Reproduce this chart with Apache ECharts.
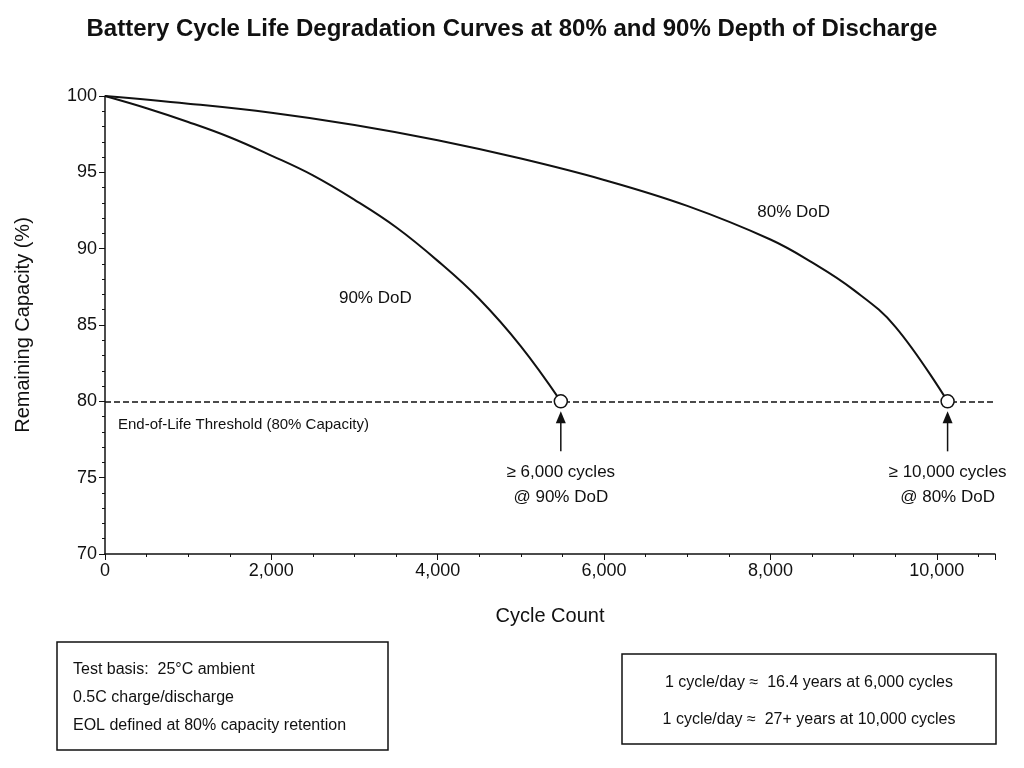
<!DOCTYPE html>
<html lang="en">
<head>
	<meta charset="UTF-8">
	<title>Battery Cycle Life</title>
</head>
<body style="margin:0">
	<div id="main" style="width: 1024px;height: 768px"></div>
	<script src="https://cdn.jsdelivr.net/npm/echarts@6/dist/echarts.min.js"></script>
	<script>
		// data
		var dod90 = [[0, 100], [500, 99.2], [1000, 98.3], [1500, 97.3], [2000, 96.1], [2500, 94.8], [3000, 93.2],
			[3500, 91.4], [4000, 89.2], [4500, 86.7], [5000, 83.6], [5480, 80]];
		var dod80 = [[0, 100], [1000, 99.5], [2000, 98.9], [3000, 98.1], [4000, 97.1], [5000, 95.9], [6000, 94.5],
			[7000, 92.8], [8000, 90.6], [8500, 89.1], [9000, 87.3], [9500, 84.9], [10130, 80]];
		var eolLevel = 80;
		var endPoints = [[5480, 80], [10130, 80]];
		var endNotes = ['≥ 6,000 cycles\n@ 90% DoD', '≥ 10,000 cycles\n@ 80% DoD'];

		var font = 'Liberation Sans';
		var myChart = echarts.init(document.getElementById('main'));

		myChart.setOption({
			animation: false,
			backgroundColor: '#fff',
			textStyle: {fontFamily: font},
			title: {
				text: 'Battery Cycle Life Degradation Curves at 80% and 90% Depth of Discharge',
				left: 'center', top: 12,
				textStyle: {fontSize: 24, fontWeight: 'bold', color: '#111', fontFamily: font}
			},
			grid: {left: 105, right: 29, top: 96, bottom: 214},
			xAxis: {
				type: 'value', min: 0, max: 10700, interval: 2000,
				name: 'Cycle Count', nameLocation: 'middle', nameGap: 52,
				nameTextStyle: {fontSize: 20, color: '#111'},
				axisLine: {lineStyle: {color: '#111', width: 1.5}},
				axisTick: {lineStyle: {color: '#111'}, length: 6},
				minorTick: {show: true, splitNumber: 4, lineStyle: {color: '#111'}},
				splitLine: {show: false},
				axisLabel: {fontSize: 18, color: '#111', showMaxLabel: false,
					formatter: function (v) { return v.toLocaleString('en-US'); }}
			},
			yAxis: {
				type: 'value', min: 70, max: 100, interval: 5,
				name: 'Remaining Capacity (%)', nameLocation: 'middle', nameGap: 72,
				nameTextStyle: {fontSize: 20, color: '#111'},
				axisLine: {show: true, lineStyle: {color: '#111', width: 1.5}},
				axisTick: {show: true, lineStyle: {color: '#111'}, length: 6},
				minorTick: {show: true, splitNumber: 5, lineStyle: {color: '#111'}},
				splitLine: {show: false},
				axisLabel: {fontSize: 18, color: '#111'}
			},
			series: [{
				name: '90% DoD', type: 'line', smooth: 0.4, showSymbol: false,
				lineStyle: {color: '#111', width: 2}, data: dod90,
				markLine: {
					silent: true, symbol: 'none', label: {show: false},
					lineStyle: {color: '#111', type: 'dashed', width: 1.5},
					data: [{yAxis: eolLevel}]
				}
			}, {
				name: '80% DoD', type: 'line', smooth: 0.4, showSymbol: false,
				lineStyle: {color: '#111', width: 2}, data: dod80
			}, {
				type: 'scatter', symbolSize: 13, z: 5, silent: true,
				itemStyle: {color: '#fff', borderColor: '#111', borderWidth: 1.5, opacity: 1},
				data: endPoints
			}]
		});

		// annotations placed from the axes
		var g = [];
		endPoints.forEach(function (p, i) {
			var px = myChart.convertToPixel({gridIndex: 0}, p);
			g.push({type: 'line', shape: {x1: px[0], y1: px[1] + 50, x2: px[0], y2: px[1] + 14},
				style: {stroke: '#111', lineWidth: 1.5}});
			g.push({type: 'polygon', shape: {points: [[px[0], px[1] + 10], [px[0] - 5, px[1] + 22], [px[0] + 5, px[1] + 22]]},
				style: {fill: '#111'}});
			g.push({type: 'text', x: px[0], y: px[1] + 58,
				style: {text: endNotes[i], fontSize: 17, fontFamily: font, fill: '#111', align: 'center', lineHeight: 25}});
		});
		var eol = myChart.convertToPixel({gridIndex: 0}, [0, eolLevel]);
		g.push({type: 'text', x: eol[0] + 13, y: eol[1] + 16,
			style: {text: 'End-of-Life Threshold (80% Capacity)', fontSize: 15, fontFamily: font, fill: '#111'}});
		var l90 = myChart.convertToPixel({gridIndex: 0}, [3250, 86.6]);
		g.push({type: 'text', x: l90[0], y: l90[1] - 11,
			style: {text: '90% DoD', fontSize: 17, fontFamily: font, fill: '#111', align: 'center'}});
		var l80 = myChart.convertToPixel({gridIndex: 0}, [8280, 92.2]);
		g.push({type: 'text', x: l80[0], y: l80[1] - 11,
			style: {text: '80% DoD', fontSize: 17, fontFamily: font, fill: '#111', align: 'center'}});

		g.push({type: 'rect', shape: {x: 57, y: 642, width: 331, height: 108},
			style: {fill: '#fff', stroke: '#111', lineWidth: 1.5}});
		g.push({type: 'text', x: 73, y: 656,
			style: {text: 'Test basis:  25°C ambient\n0.5C charge/discharge\nEOL defined at 80% capacity retention',
				fontSize: 16, fontFamily: font, fill: '#111', lineHeight: 28}});
		g.push({type: 'rect', shape: {x: 622, y: 654, width: 374, height: 90},
			style: {fill: '#fff', stroke: '#111', lineWidth: 1.5}});
		g.push({type: 'text', x: 809, y: 664,
			style: {text: '1 cycle/day ≈  16.4 years at 6,000 cycles\n1 cycle/day ≈  27+ years at 10,000 cycles',
				fontSize: 16, fontFamily: font, fill: '#111', lineHeight: 37, align: 'center'}});
		myChart.setOption({graphic: {elements: g}});
	</script>
</body>
</html>
